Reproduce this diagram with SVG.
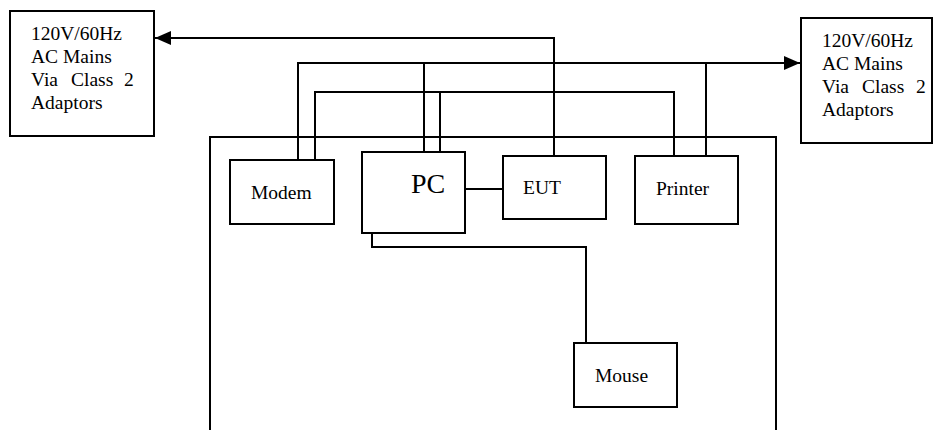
<svg xmlns="http://www.w3.org/2000/svg" width="933" height="430" viewBox="0 0 933 430">
<style>
.box{fill:#fff;stroke:#000;stroke-width:2}
.ln{fill:none;stroke:#000;stroke-width:2}
.t{font-family:'Liberation Serif','Times New Roman','DejaVu Serif',serif;font-size:19.5px;fill:#000}
.big{font-size:28px}
</style>
<defs>
<marker id="ah" markerUnits="userSpaceOnUse" markerWidth="16" markerHeight="14" refX="16" refY="7" orient="auto">
<path d="M0,0 L16,7 L0,14 Z" fill="#000"/>
</marker>
</defs>
<rect width="933" height="430" fill="#fff"/>
<g id="outer">
<path class="ln" d="M210,432 V137 H776 V432"/>
</g>
<g id="connectors">
<path class="ln" d="M554,156 V38 H155" marker-end="url(#ah)"/>
<path class="ln" d="M298,160 V63 H800" marker-end="url(#ah)"/>
<path class="ln" d="M424,152 V63"/>
<path class="ln" d="M706,156 V63"/>
<path class="ln" d="M315,160 V92 H674 V156"/>
<path class="ln" d="M440,152 V92"/>
<path class="ln" d="M465,189 H503"/>
<path class="ln" d="M372,233 V247 H586 V343"/>
</g>
<g id="mains-left">
<rect class="box" x="10" y="11" width="144" height="125"/>
<text class="t" x="31" y="40">120V/60Hz</text>
<text class="t" x="31" y="63">AC Mains</text>
<text class="t" y="86"><tspan x="31">Via</tspan><tspan x="71">Class</tspan><tspan x="124">2</tspan></text>
<text class="t" x="31" y="109">Adaptors</text>
</g>
<g id="mains-right">
<rect class="box" x="801" y="18" width="131" height="125"/>
<text class="t" x="822" y="47">120V/60Hz</text>
<text class="t" x="822" y="70">AC Mains</text>
<text class="t" y="93"><tspan x="822">Via</tspan><tspan x="862">Class</tspan><tspan x="916">2</tspan></text>
<text class="t" x="822" y="116">Adaptors</text>
</g>
<g id="modem">
<rect class="box" x="230" y="160" width="104" height="64"/>
<text class="t" x="251" y="199">Modem</text>
</g>
<g id="pc">
<rect class="box" x="362" y="152" width="103" height="81"/>
<text class="t big" x="411" y="193">PC</text>
</g>
<g id="eut">
<rect class="box" x="503" y="156" width="103" height="63"/>
<text class="t" x="523" y="194">EUT</text>
</g>
<g id="printer">
<rect class="box" x="635" y="156" width="103" height="68"/>
<text class="t" x="656" y="195">Printer</text>
</g>
<g id="mouse">
<rect class="box" x="574" y="343" width="103" height="64"/>
<text class="t" x="595" y="382">Mouse</text>
</g>
</svg>
